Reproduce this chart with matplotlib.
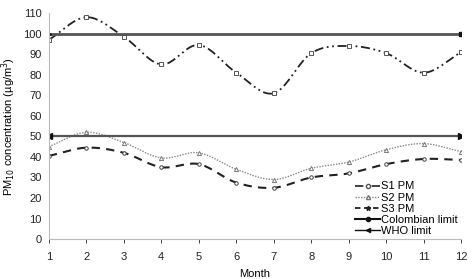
import numpy as np
import matplotlib
matplotlib.use('Agg')
import matplotlib.pyplot as plt

plt.rcParams['font.family'] = ['Liberation Sans', 'DejaVu Sans']

months = [1, 2, 3, 4, 5, 6, 7, 8, 9, 10, 11, 12]
s1_pm = [97, 108, 98.5, 85, 94.5, 81, 71, 90.5, 94, 90.5, 81, 91]
s2_pm = [45, 52, 47, 39.5, 42, 34, 29, 34.5, 37.5, 43.5, 46.5, 42.5]
s3_pm = [40.5, 44.5, 42, 35, 36.5, 27.5, 25, 30, 32, 36.5, 39, 38.5]
colombian_limit = 100
who_limit = 50


def smooth(x, y, n=20):
    # catmull-rom style curve like excel "smoothed line"
    x = np.asarray(x, float)
    y = np.asarray(y, float)
    px = np.concatenate([[2 * x[0] - x[1]], x, [2 * x[-1] - x[-2]]])
    py = np.concatenate([[2 * y[0] - y[1]], y, [2 * y[-1] - y[-2]]])
    xs, ys = [], []
    t = np.linspace(0, 1, n, endpoint=False)
    for i in range(1, len(px) - 2):
        for p, out in ((px, xs), (py, ys)):
            p0, p1, p2, p3 = p[i - 1], p[i], p[i + 1], p[i + 2]
            out.append(0.5 * (2 * p1 + (-p0 + p2) * t + (2 * p0 - 5 * p1 + 4 * p2 - p3) * t ** 2
                              + (-p0 + 3 * p1 - 3 * p2 + p3) * t ** 3))
    xs.append([x[-1]])
    ys.append([y[-1]])
    return np.concatenate(xs), np.concatenate(ys)


fig = plt.figure(figsize=(4.74, 2.79), dpi=100)
ax = fig.add_axes([0.103, 0.143, 0.870, 0.810])

# S1
sx, sy = smooth(months, s1_pm)
ax.plot(sx, sy, color='#222222', lw=1.3, dashes=[5, 2, 1, 2, 1, 2])
ax.plot(months, s1_pm, ls='none', marker='s', ms=3, mfc='white', mec='#555555', mew=0.7)
# S2
sx, sy = smooth(months, s2_pm)
ax.plot(sx, sy, color='#888888', lw=1.0, dashes=[1, 1])
ax.plot(months, s2_pm, ls='none', marker='^', ms=3, mfc='white', mec='#777777', mew=0.7)
# S3
sx, sy = smooth(months, s3_pm)
ax.plot(sx, sy, color='#222222', lw=1.5, dashes=[4, 3])
ax.plot(months, s3_pm, ls='none', marker='o', ms=2.5, mfc='white', mec='#444444', mew=0.7)

# limits
ax.plot([1, 12], [colombian_limit] * 2, color='#555555', lw=2.0)
ax.plot([12], [colombian_limit], ls='none', marker='s', ms=3, color='#111111')
ax.plot([1], [colombian_limit], ls='none', marker='>', ms=3, color='#111111')
ax.plot([1, 12], [who_limit] * 2, color='#555555', lw=1.6)
ax.plot([1], [who_limit], ls='none', marker='<', ms=4, color='#111111')
ax.plot([12], [who_limit], ls='none', marker='>', ms=4, color='#111111')

# legend handles
h1, = ax.plot([], [], color='#222222', lw=1.2, dashes=[5, 2, 1, 2],
              marker='o', ms=3, mfc='white', mec='#555555')
h2, = ax.plot([], [], color='#888888', lw=1.0, dashes=[1, 1],
              marker='^', ms=3, mfc='white', mec='#777777')
h3, = ax.plot([], [], color='#222222', lw=1.3, dashes=[3, 2], marker='*', ms=3.5)
h4, = ax.plot([], [], color='#111111', lw=1.5, marker='o', ms=3)
h5, = ax.plot([], [], color='#111111', lw=1.0, marker='<', ms=3)
leg = ax.legend([h1, h2, h3, h4, h5], ['S1 PM', 'S2 PM', 'S3 PM', 'Colombian limit', 'WHO limit'],
                loc='lower right', bbox_to_anchor=(1.01, -0.02), frameon=False, fontsize=8,
                handlelength=2.2, handletextpad=0.1, labelspacing=0.1, borderpad=0.2)

ax.set_xlim(1, 12)
ax.set_ylim(0, 110)
ax.set_xticks(months)
ax.set_yticks(range(0, 111, 10))
ax.tick_params(labelsize=8, colors='#222222', length=3, width=0.6)
ax.tick_params(axis='x', pad=6)
ax.tick_params(axis='y', length=0, pad=5)
for s in ['top', 'right']:
    ax.spines[s].set_visible(False)
for s in ['left', 'bottom']:
    ax.spines[s].set_color('#bbbbbb')
    ax.spines[s].set_linewidth(0.8)

ax.set_xlabel('Month', fontsize=8, labelpad=5)
ax.set_ylabel('PM$_{10}$ concentration (\u00b5g/m$^3$)', fontsize=8, labelpad=4)

fig.savefig('out.png', dpi=100)
